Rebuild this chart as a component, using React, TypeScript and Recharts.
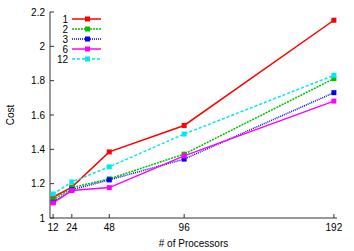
import { LineChart, Line, XAxis, YAxis, Legend } from 'recharts';

const processors = [12, 24, 48, 96, 192];
const cost1 = [1.121, 1.18, 1.385, 1.539, 2.152];
const cost2 = [1.105, 1.177, 1.228, 1.372, 1.812];
const cost3 = [1.092, 1.165, 1.222, 1.343, 1.73];
const cost6 = [1.088, 1.16, 1.177, 1.362, 1.681];
const cost12 = [1.14, 1.21, 1.298, 1.489, 1.831];

const yTicks = [1, 1.2, 1.4, 1.6, 1.8, 2, 2.2];

const SERIES = [
  { key: 's1', name: '1', values: cost1, color: '#ff0000', dash: undefined },
  { key: 's2', name: '2', values: cost2, color: '#00c000', dash: '2 1' },
  { key: 's3', name: '3', values: cost3, color: '#0000ff', dash: '1 1' },
  { key: 's6', name: '6', values: cost6, color: '#ff00ff', dash: undefined },
  { key: 's12', name: '12', values: cost12, color: '#00e8e8', dash: '3 2' },
];

const data = processors.map((p, i) => {
  const row: Record<string, number> = { p };
  SERIES.forEach((s) => {
    row[s.key] = s.values[i];
  });
  return row;
});

const FONT = '"Liberation Sans", Arial, sans-serif';
const AXIS = '#333';

const fmt = (v: number) => String(Number(v.toFixed(1)));

function squareDot(color: string) {
  return (props: any) => {
    const { cx, cy, index } = props;
    if (cx == null || cy == null) return <g key={index} />;
    return <rect key={index} x={cx - 2.5} y={cy - 2.5} width={5} height={5} fill={color} />;
  };
}

function renderLegend() {
  return (
    <svg width={60} height={52} style={{ display: 'block' }}>
      {SERIES.map((s, i) => {
        const y = 5 + i * 10;
        return (
          <g key={s.key}>
            <text x={13} y={y} dy="0.35em" textAnchor="end" fontSize={10} fontFamily={FONT} fill="#000">
              {s.name}
            </text>
            <line x1={17} x2={46} y1={y} y2={y} stroke={s.color} strokeWidth={1.5} strokeDasharray={s.dash} />
            <rect x={30} y={y - 2.5} width={5} height={5} fill={s.color} />
          </g>
        );
      })}
    </svg>
  );
}

export default function App() {
  const tickStyle = { fontSize: 10, fontFamily: FONT, fill: '#000' };
  return (
    <div style={{ position: 'absolute', left: 0, top: 0, background: '#fff' }}>
      <LineChart width={354} height={251} data={data} margin={{ top: 12, right: 17, left: 0, bottom: 0 }}>
        <XAxis
          dataKey="p"
          type="number"
          domain={[10, 194]}
          ticks={processors}
          allowDataOverflow
          height={33}
          tickSize={-4}
          tickMargin={10}
          tick={tickStyle}
          stroke={AXIS}
          label={{ value: '# of Processors', position: 'insideBottom', offset: 4, style: { fontSize: 10, fontFamily: FONT, fill: '#000' } }}
        />
        <XAxis
          xAxisId="top"
          orientation="top"
          dataKey="p"
          type="number"
          domain={[10, 194]}
          ticks={processors}
          allowDataOverflow
          height={0}
          tickSize={-4}
          tickFormatter={() => ''}
          stroke={AXIS}
        />
        <YAxis
          type="number"
          domain={[1, 2.2]}
          ticks={yTicks}
          allowDataOverflow
          width={50}
          tickSize={-4}
          tickMargin={9}
          tickFormatter={fmt}
          tick={tickStyle}
          stroke={AXIS}
          label={{ value: 'Cost', angle: -90, position: 'insideLeft', offset: 10, style: { textAnchor: 'middle', fontSize: 10, fontFamily: FONT, fill: '#000' } }}
        />
        <YAxis
          yAxisId="right"
          orientation="right"
          type="number"
          domain={[1, 2.2]}
          ticks={yTicks}
          allowDataOverflow
          width={0}
          tickSize={-4}
          tickFormatter={() => ''}
          stroke={AXIS}
        />
        <Legend
          content={renderLegend}
          layout="vertical"
          align="center"
          verticalAlign="middle"
          wrapperStyle={{ position: 'absolute', left: 55, top: 14, width: 60, height: 52 }}
        />
        {SERIES.map((s) => (
          <Line
            key={s.key}
            dataKey={s.key}
            name={s.name}
            stroke={s.color}
            strokeWidth={1.5}
            strokeDasharray={s.dash}
            dot={squareDot(s.color)}
            activeDot={false}
            isAnimationActive={false}
          />
        ))}
      </LineChart>
    </div>
  );
}
